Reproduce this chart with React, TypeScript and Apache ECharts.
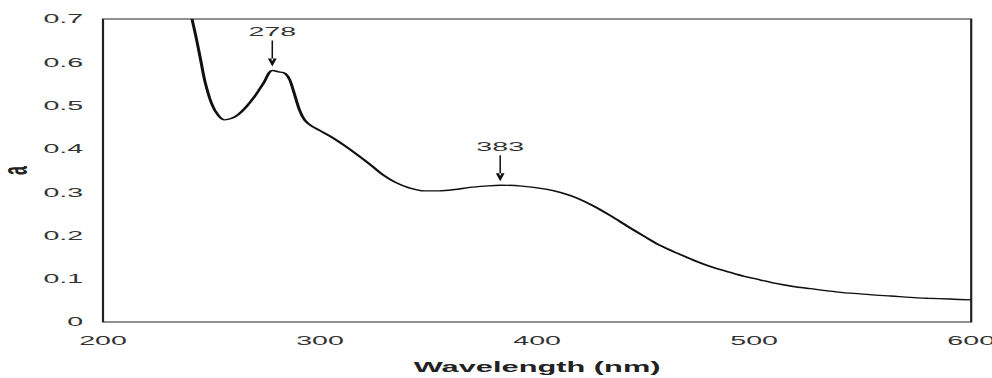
import React, { useEffect, useRef } from "react";
import * as echarts from "echarts";

// UV-Vis absorption spectrum
const WAVELENGTHS = [
  241, 243, 245, 247, 250, 253, 256, 259, 262, 266, 270, 274, 278, 281, 284, 286, 288, 290.5, 293, 296,
  300, 306, 312, 318, 324, 329, 335, 341, 348, 355, 362, 369, 376, 383, 393, 404, 411, 418, 426, 434,
  442, 450, 457, 465, 472, 480, 488, 495, 503, 510, 518, 526, 534, 541, 549, 556, 563, 572, 580, 590, 600,
];
const ABSORBANCE = [
  0.7, 0.655, 0.605, 0.555, 0.505, 0.478, 0.467, 0.47, 0.478, 0.497, 0.522, 0.552, 0.581, 0.578, 0.574, 0.56, 0.53, 0.49, 0.466, 0.453,
  0.442, 0.425, 0.405, 0.383, 0.36, 0.34, 0.322, 0.31, 0.303, 0.303, 0.306, 0.311, 0.314, 0.316, 0.314, 0.307, 0.299, 0.287, 0.268, 0.245,
  0.22, 0.196, 0.176, 0.158, 0.143, 0.128, 0.116, 0.106, 0.097, 0.089, 0.082, 0.077, 0.072, 0.068, 0.065, 0.062, 0.06, 0.057, 0.055, 0.053, 0.051,
];
const PEAKS = [278, 383];

const X_MIN = 200;
const X_MAX = 600;
const X_STEP = 100;
const Y_MIN = 0;
const Y_MAX = 0.7;
const Y_STEP = 0.1;

// The figure is drawn at a narrow width and stretched horizontally.
const STRETCH = 2.2;
const PAGE_W = 992;
const PAGE_H = 378;
const CHART_W = PAGE_W / STRETCH;

const FONT = "'Liberation Sans', Arial, Helvetica, sans-serif";

function absorbanceAt(w: number): number {
  const i = WAVELENGTHS.indexOf(w);
  return i >= 0 ? ABSORBANCE[i] : 0;
}

export default function App() {
  const ref = useRef<HTMLDivElement>(null);

  useEffect(() => {
    if (!ref.current) return;
    const chart = echarts.init(ref.current, undefined, { renderer: "svg" });
    const arrow = "path://M3.4 0H4.6V20H3.4Z M0.5 18L4 26L7.5 18Z";

    chart.setOption({
      animation: false,
      backgroundColor: "#ffffff",
      textStyle: { fontFamily: FONT },
      grid: {
        left: 103 / STRETCH,
        right: CHART_W - 971 / STRETCH,
        top: 19,
        bottom: PAGE_H - 322,
        containLabel: false,
        outerBoundsMode: "none",
        show: true,
        borderColor: "#222",
        borderWidth: 1,
        backgroundColor: "transparent",
      },
      xAxis: {
        type: "value",
        min: X_MIN,
        max: X_MAX,
        interval: X_STEP,
        name: "Wavelength (nm)",
        nameLocation: "middle",
        nameGap: 38,
        nameMoveOverlap: false,
        nameTextStyle: { fontFamily: FONT, fontSize: 14, fontWeight: "bold", color: "#222" },
        axisLine: { show: false },
        axisTick: { show: false },
        splitLine: { show: false },
        axisLabel: { margin: 12, fontSize: 13, color: "#333", fontFamily: FONT },
      },
      yAxis: {
        type: "value",
        min: Y_MIN,
        max: Y_MAX,
        interval: Y_STEP,
        name: "a",
        nameLocation: "middle",
        nameGap: 32,
        nameMoveOverlap: false,
        nameTextStyle: { fontFamily: FONT, fontSize: 16, fontWeight: "bold", color: "#222" },
        axisLine: { show: false },
        axisTick: { show: false },
        splitLine: { show: false },
        axisLabel: { margin: 9, fontSize: 13, color: "#333", fontFamily: FONT },
      },
      series: [
        {
          type: "line",
          data: WAVELENGTHS.map((w, i) => [w, ABSORBANCE[i]]),
          showSymbol: false,
          smooth: 0.3,
          lineStyle: { color: "#111", width: 1.4 },
          clip: true,
          markPoint: {
            symbol: arrow,
            symbolSize: [4, 26],
            symbolKeepAspect: false,
            symbolOffset: [0, -17],
            itemStyle: { color: "#111" },
            label: {
              show: true,
              position: "top",
              distance: 2,
              fontSize: 13,
              color: "#333",
              fontFamily: FONT,
              formatter: (p: any) => p.name,
            },
            data: PEAKS.map((w) => ({ name: String(w), coord: [w, absorbanceAt(w)] })),
          },
        },
      ],
    });

    return () => chart.dispose();
  }, []);

  return (
    <div
      style={{
        position: "absolute",
        left: 0,
        top: 0,
        width: PAGE_W,
        height: PAGE_H,
        overflow: "hidden",
        background: "#fff",
      }}
    >
      <div
        ref={ref}
        style={{
          width: CHART_W,
          height: PAGE_H,
          transform: `scaleX(${STRETCH})`,
          transformOrigin: "0 0",
        }}
      />
    </div>
  );
}
